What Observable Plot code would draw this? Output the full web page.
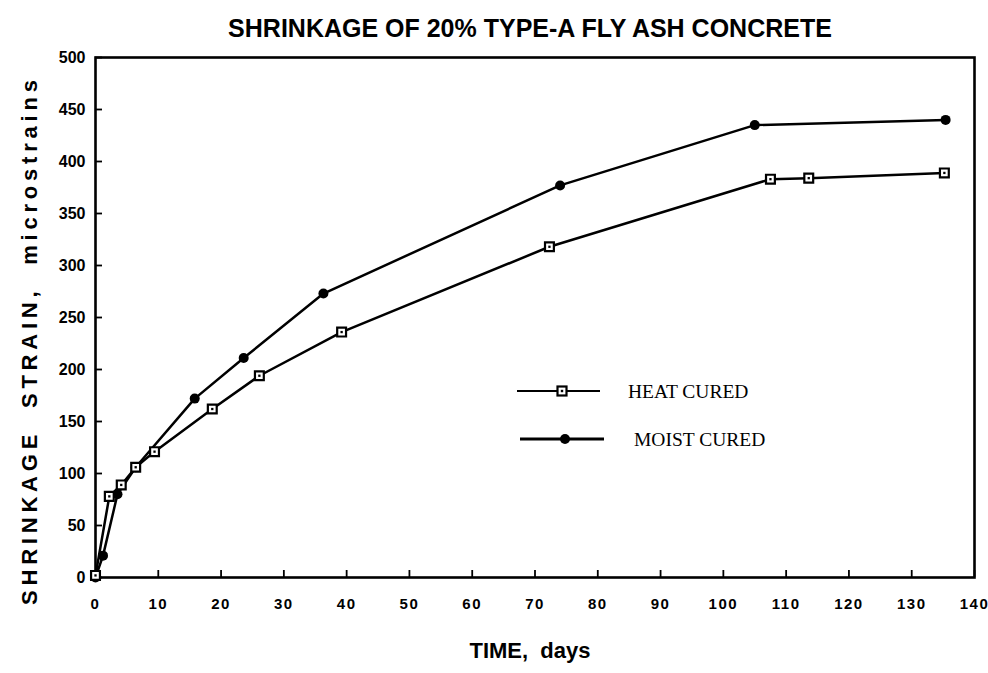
<!DOCTYPE html>
<html>
<head>
<meta charset="utf-8">
<script src="https://cdn.jsdelivr.net/npm/d3@7"></script>
<script src="https://cdn.jsdelivr.net/npm/@observablehq/plot@0.6"></script>
<style>
  html, body { margin: 0; padding: 0; background: #fff; }
  #wrap { position: relative; width: 988px; height: 673px; overflow: hidden; background: #fff; }
  #title { box-sizing: border-box; width: 988px; height: 50px; padding: 15px 0 0 72px; text-align: center;
           font-family: "Liberation Sans", Arial, sans-serif; font-weight: bold; font-size: 25px; line-height: 26px; color: #000; }
  #legend { position: absolute; left: 0; top: 0; pointer-events: none; }
  #chart g[aria-label="x-axis tick label"] text { font-size: 15px; letter-spacing: 1.5px; }
  #chart g[aria-label="y-axis tick label"] text { font-size: 16px; }
</style>
</head>
<body>
<div id="wrap">
  <div id="title">SHRINKAGE OF 20% TYPE-A FLY ASH CONCRETE</div>
  <div id="chart"></div>
</div>
<script>
// ---- data ----
const heatDays   = [0, 2.2, 4.1, 6.4, 9.4, 18.6, 26.1, 39.2, 72.3, 107.5, 113.6, 135.2];
const heatStrain = [2, 78, 89, 106, 121, 162, 194, 236, 318, 383, 384, 389];
const moistDays   = [0, 1.2, 3.5, 6.4, 15.8, 23.6, 36.3, 74, 105, 135.4];
const moistStrain = [0, 21, 80, 106, 172, 211, 273, 377, 435, 440];
const xTicks = [0, 10, 20, 30, 40, 50, 60, 70, 80, 90, 100, 110, 120, 130, 140];
const yTicks = [0, 50, 100, 150, 200, 250, 300, 350, 400, 450, 500];
const seriesNames = ["HEAT CURED", "MOIST CURED"];
const xLabel = "TIME,  days";
const yLabel = "SHRINKAGE  STRAIN,  microstrains";

const heat = heatDays.map((d, i) => ({day: d, strain: heatStrain[i]}));
const moist = moistDays.map((d, i) => ({day: d, strain: moistStrain[i]}));

const chart = Plot.plot({
  width: 988,
  height: 623,
  marginLeft: 95,
  marginRight: 14,
  marginTop: 7,
  marginBottom: 96,
  x: {domain: [0, 140]},
  y: {domain: [0, 500]},
  style: {fontFamily: "'Liberation Sans', Arial, sans-serif", fontWeight: "bold", fontSize: "14px", color: "#000", background: "#fff", overflow: "visible"},
  marks: [
    Plot.axisX({ticks: xTicks, tickSize: -7, tickPadding: 28, tickFormat: d => d, strokeWidth: 1.8, fontSize: 15,
                label: xLabel, labelArrow: "none", labelAnchor: "center", labelOffset: 80}),
    Plot.axisY({ticks: yTicks, tickSize: -7, tickPadding: 17, tickFormat: d => d, strokeWidth: 1.8, fontSize: 16,
                label: yLabel, labelArrow: "none", labelAnchor: "center", labelOffset: 74}),
    Plot.frame({stroke: "#000", strokeWidth: 2.6}),
    Plot.line(heat, {x: "day", y: "strain", stroke: "#000", strokeWidth: 2.5}),
    Plot.line(moist, {x: "day", y: "strain", stroke: "#000", strokeWidth: 2.5}),
    Plot.dot(moist, {x: "day", y: "strain", r: 5, fill: "#000", stroke: "none"}),
    Plot.dot(heat, {x: "day", y: "strain", symbol: "square", r: 5, fill: "#fff", stroke: "#000", strokeWidth: 2.2}),
    Plot.dot(heat, {x: "day", y: "strain", symbol: "square", r: 1.3, fill: "#000", stroke: "none"})
  ]
});
document.getElementById("chart").appendChild(chart);

// axis label styling
const svg = d3.select(chart);
svg.selectAll('[aria-label="x-axis label"] text, [aria-label="x-axis label"]')
  .filter(function() { return this.tagName === "text"; })
  .attr("font-size", 22).attr("font-weight", "bold").attr("dx", -5).style("white-space", "pre");
svg.selectAll('[aria-label="y-axis label"] text, [aria-label="y-axis label"]')
  .filter(function() { return this.tagName === "text"; })
  .attr("font-size", 22).attr("font-weight", "bold")
  .attr("textLength", 525).attr("lengthAdjust", "spacing").attr("dx", -25);

// legend overlay
const lg = d3.select("#wrap").append("svg").attr("id", "legend").attr("width", 988).attr("height", 673);
const items = [
  {name: seriesNames[0], y: 391, x1: 517, x2: 600, mx: 562, tx: 628, sw: 2, kind: "square"},
  {name: seriesNames[1], y: 439, x1: 520, x2: 604, mx: 565, tx: 634, sw: 2.8, kind: "circle"}
];
items.forEach(it => {
  lg.append("line").attr("x1", it.x1).attr("x2", it.x2).attr("y1", it.y).attr("y2", it.y)
    .attr("stroke", "#000").attr("stroke-width", it.sw);
  if (it.kind === "square") {
    lg.append("rect").attr("x", it.mx - 4.5).attr("y", it.y - 4.5).attr("width", 9).attr("height", 9)
      .attr("fill", "#fff").attr("stroke", "#000").attr("stroke-width", 2.2);
    lg.append("rect").attr("x", it.mx - 1.2).attr("y", it.y - 1.2).attr("width", 2.4).attr("height", 2.4).attr("fill", "#000");
  } else {
    lg.append("circle").attr("cx", it.mx).attr("cy", it.y).attr("r", 5).attr("fill", "#000");
  }
  lg.append("text").attr("x", it.tx).attr("y", it.y).attr("dy", "0.35em")
    .attr("font-family", "'Liberation Serif', 'Times New Roman', serif").attr("font-size", 19.5)
    .text(it.name);
});
</script>
</body>
</html>
